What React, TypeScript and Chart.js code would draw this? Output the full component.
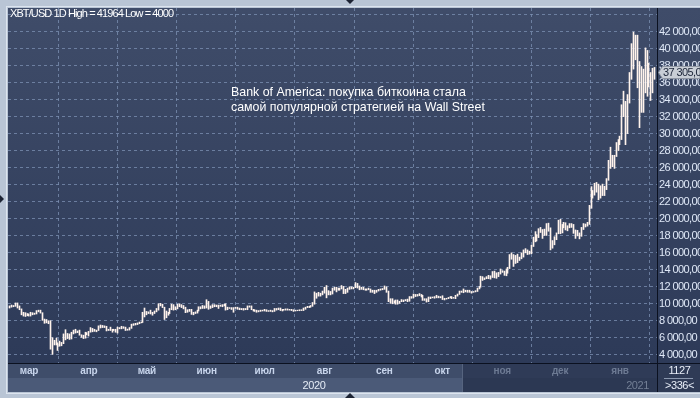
import React, { useEffect, useRef } from "react";
import { Chart, registerables } from "chart.js";

Chart.register(...registerables);

// ---- DATA (daily low / high, XBT/USD) ----
const START_DATE = "2020-02-20";

const feb2020: [number, number][] = [
  [9450, 9700], [9550, 9800], [9600, 9750], [9650, 10050], [9450, 10050], [9250, 9700], [8650, 9350], [8500, 8950], [8450, 8900], [8550, 8800],
];
const mar2020: [number, number][] = [
  [8500, 8750], [8500, 8950], [8650, 8900], [8700, 8850], [8750, 9150], [9000, 9200], [8850, 9200], [8000, 8900], [7650, 8150], [7700, 8100],
  [7600, 7950], [4600, 7950], [4000, 5950], [5100, 5650], [5100, 5900], [4450, 5350], [4950, 5550], [5000, 5400], [5250, 6400], [5700, 6900],
  [5850, 6450], [5750, 6400], [5800, 6600], [6400, 6850], [6500, 6950], [6550, 6750], [6250, 6850], [6000, 6300], [5850, 6250], [5900, 6600],
  [6300, 6550],
];
const apr2020: [number, number][] = [
  [6150, 6700], [6600, 7150], [6650, 7050], [6700, 6950], [6650, 6850], [6800, 7350], [7100, 7450], [7150, 7400], [7150, 7350], [6750, 7300],
  [6800, 6950], [6800, 7200], [6600, 6950], [6800, 6950], [6600, 6950], [6500, 7200], [7000, 7150], [7000, 7300], [7050, 7250], [6800, 7200],
  [6830, 6970], [6850, 7150], [7050, 7550], [7400, 7600], [7450, 7650], [7500, 7700], [7600, 7800], [7700, 7800], [7750, 8950], [8400, 9450],
];
const may2020: [number, number][] = [
  [8650, 9050], [8800, 9000], [8750, 9200], [8600, 8950], [8800, 9100], [9000, 9400], [9200, 9950], [9700, 10000], [9500, 9900], [8100, 9550],
  [8300, 9100], [8600, 8950], [8800, 9400], [9250, 9900], [9200, 9850], [9250, 9600], [9350, 9900], [9600, 9950], [9500, 9850], [9350, 9750],
  [8900, 9550], [8950, 9250], [9050, 9300], [8700, 9300], [8650, 8950], [8800, 9000], [8850, 9200], [9100, 9600], [9350, 9600], [9400, 9750],
  [9400, 9700],
];
const jun2020: [number, number][] = [
  [9450, 10430], [9300, 10230], [9400, 9700], [9500, 9850], [9600, 9850], [9600, 9800], [9400, 9800], [9650, 9800], [9600, 9850], [9700, 9900],
  [9200, 9950], [9250, 9550], [9400, 9500], [9280, 9500], [8950, 9500], [9400, 9550], [9300, 9550], [9250, 9450], [9250, 9400], [9200, 9400],
  [9250, 9400], [9250, 9700], [9550, 9700], [9250, 9700], [9100, 9300], [9050, 9250], [8950, 9200], [9000, 9150], [9050, 9200], [9100, 9200],
];
const jul2020: [number, number][] = [
  [9100, 9300], [9050, 9250], [9050, 9150], [9050, 9200], [9000, 9150], [9050, 9400], [9200, 9400], [9250, 9450], [9150, 9450], [9100, 9300],
  [9200, 9300], [9200, 9350], [9200, 9350], [9200, 9300], [9150, 9300], [9050, 9250], [9100, 9200], [9130, 9200], [9130, 9250], [9150, 9250],
  [9150, 9450], [9300, 9550], [9500, 9650], [9500, 9650], [9550, 9750], [9650, 10100], [9900, 11350], [10600, 11200], [10850, 11300], [10850, 11200],
  [11000, 11450],
];
const aug2020: [number, number][] = [
  [11200, 11900], [10650, 12100], [11000, 11500], [11000, 11400], [11100, 11800], [11550, 11900], [11350, 11900], [11550, 11800], [11550, 11800], [11700, 12100],
  [11150, 12000], [11150, 11650], [11300, 11800], [11650, 11950], [11700, 11950], [11700, 11900], [11850, 12450], [11800, 12350], [11600, 12050], [11650, 11900],
  [11600, 11900], [11550, 11700], [11550, 11700], [11600, 11800], [11300, 11700], [11300, 11550], [11150, 11550], [11300, 11550], [11450, 11650], [11550, 11700],
  [11600, 11750],
];
const sep2020: [number, number][] = [
  [11650, 12050], [11300, 11950], [10200, 11450], [10000, 10550], [9950, 10550], [10050, 10300], [9900, 10400], [9900, 10400], [10000, 10250], [10200, 10450],
  [10200, 10400], [10300, 10450], [10200, 10500], [10250, 10800], [10600, 10800], [10650, 11100], [10800, 11050], [10850, 11050], [10900, 11150], [10750, 11050],
  [10350, 10950], [10350, 10550], [10150, 10550], [10200, 10750], [10550, 10750], [10650, 10750], [10600, 10800], [10650, 10950], [10650, 10850], [10650, 10800],
];
const oct2020: [number, number][] = [
  [10450, 10900], [10400, 10600], [10500, 10600], [10550, 10700], [10650, 10800], [10550, 10800], [10600, 10700], [10550, 10950], [10850, 11100], [11050, 11450],
  [11300, 11450], [11250, 11700], [11350, 11550], [11300, 11550], [11300, 11550], [11200, 11400], [11300, 11400], [11350, 11500], [11400, 11800], [11700, 12000],
  [11900, 13200], [12700, 13150], [12800, 13000], [12900, 13150], [12900, 13300], [12850, 13250], [13050, 13750], [13000, 13800], [12950, 13600], [13150, 13650],
  [13450, 14050],
];
const nov2020: [number, number][] = [
  [13650, 13850], [13300, 13800], [13250, 14050], [13550, 14250], [14100, 15750], [15200, 15950], [14350, 15750], [14700, 15650], [14800, 15800], [15050, 15450],
  [15250, 15950], [15450, 16300], [15950, 16450], [15750, 16300], [15800, 16150], [15850, 16850], [16700, 17800], [17250, 18450], [17350, 18100], [17750, 18800],
  [18350, 18950], [17650, 18700], [18000, 18750], [18000, 19400], [18500, 19450], [16300, 18900], [16500, 17400], [16900, 17850], [17500, 18300], [18200, 19800],
];
const dec2020: [number, number][] = [
  [18200, 19900], [18300, 19300], [18900, 19550], [18650, 19500], [18550, 19150], [18900, 19400], [18950, 19400], [18250, 19300], [17650, 18650], [17950, 18600],
  [17600, 18300], [17900, 18950], [18700, 19400], [19000, 19350], [19100, 19550], [19300, 21550], [21200, 23750], [22400, 23300], [22750, 24150], [23100, 24250],
  [22200, 24050], [22400, 23850], [22700, 24050], [22700, 23800], [23400, 24700], [24500, 26850], [25900, 28400], [26100, 27450], [25900, 27450], [27300, 28950],
  [28000, 29300],
];
const jan2021: [number, number][] = [
  [28700, 29700], [29300, 33400], [32000, 35000], [28700, 33800], [30000, 34600], [33600, 37200], [36400, 40600], [37600, 41964], [38700, 41600], [35400, 41600],
  [30700, 38500], [32500, 37900], [32500, 37600], [34800, 40100], [34400, 39800], [35500, 38300], [33900, 37200], [34800, 37700], [36400, 37800],
];

const MONTH_STARTS = ["2020-03-01", "2020-04-01", "2020-05-01", "2020-06-01", "2020-07-01", "2020-08-01", "2020-09-01", "2020-10-01", "2020-11-01", "2020-12-01", "2021-01-01"];
const MONTH_LABELS = ["мар", "апр", "май", "июн", "июл", "авг", "сен", "окт", "ноя", "дек", "янв"];
const YEAR_LABELS = ["2020", "2021"];
const PRICE_TICKS = [4000, 6000, 8000, 10000, 12000, 14000, 16000, 18000, 20000, 22000, 24000, 26000, 28000, 30000, 32000, 34000, 36000, 38000, 40000, 42000];
const GRID_PRICES = [...PRICE_TICKS, 44000];
const LAST_PRICE = 37305;
const TITLE = "XBT/USD 1D High = 41964 Low = 4000";
const NOTE_LINES = ["Bank of America: покупка биткоина стала", "самой популярной стратегией на Wall Street"];
const COUNT_TOP = "1127";
const COUNT_BOTTOM = ">336<";

const BARS = [
  ...feb2020, ...mar2020, ...apr2020, ...may2020, ...jun2020, ...jul2020,
  ...aug2020, ...sep2020, ...oct2020, ...nov2020, ...dec2020, ...jan2021,
];

const DAY = 86400000;
const dayIndex = (d: string) => Math.round((Date.parse(d + "T00:00:00Z") - Date.parse(START_DATE + "T00:00:00Z")) / DAY);
const MONTH_IDX = MONTH_STARTS.map(dayIndex);

const fmt = (v: number) => {
  const th = Math.floor(v / 1000);
  const rest = String(v % 1000).padStart(3, "0");
  return `${th} ${rest},00`;
};

const FONT = "'Liberation Sans', Arial, sans-serif";

const framePlugin = {
  id: "frame",
  beforeDraw(chart: any) {
    const { ctx, chartArea: ca, width, height } = chart;
    ctx.save();
    ctx.fillStyle = "#b9c5d5";
    ctx.fillRect(0, 0, width, height);
    ctx.strokeStyle = "#dce4ee";
    ctx.lineWidth = 1;
    ctx.strokeRect(6.5, 6.5, width - 6, ca.bottom + 30 - 6);
    const g = ctx.createLinearGradient(0, ca.top, 0, ca.bottom);
    g.addColorStop(0, "#3f4c69");
    g.addColorStop(1, "#2d3a58");
    ctx.fillStyle = g;
    ctx.fillRect(ca.left, ca.top, width - ca.left, ca.bottom - ca.top);
    const r1 = ca.bottom, r2 = ca.bottom + 15, r3 = ca.bottom + 29;
    const shade = 462;
    ctx.fillStyle = "#3f4d6a";
    ctx.fillRect(ca.left, r1, ca.right - ca.left, r2 - r1);
    ctx.fillStyle = "#4b5a78";
    ctx.fillRect(ca.left, r2, ca.right - ca.left, r3 - r2);
    ctx.fillStyle = "#2f3b57";
    ctx.fillRect(shade, r1, ca.right - shade, r2 - r1);
    ctx.fillStyle = "#2c3853";
    ctx.fillRect(shade, r2, ca.right - shade, r3 - r2);
    ctx.fillStyle = "#56647f";
    ctx.fillRect(shade, r1, 1, r3 - r1);
    ctx.fillStyle = "#2f3b56";
    ctx.fillRect(ca.right, r1, width - ca.right, r3 - r1);
    ctx.restore();
  },
  beforeDatasetsDraw(chart: any) {
    const meta = chart.getDatasetMeta(0);
    meta.data.forEach((el: any) => {
      el.x = Math.floor(el.x) + 0.5;
    });
  },
  afterDraw(chart: any) {
    const { ctx, chartArea: ca, width, scales } = chart;
    const xs = scales.x, ys = scales.y;
    const r1 = ca.bottom, r2 = ca.bottom + 15, r3 = ca.bottom + 29;
    const shade = 462;
    ctx.save();
    ctx.fillStyle = "#0b1120";
    ctx.fillRect(ca.right, ca.top, 1, r3 - ca.top);
    ctx.fillRect(ca.left, r1, width - ca.left, 1);
    // price labels
    ctx.font = `11px ${FONT}`;
    (ctx as any).letterSpacing = "-0.6px";
    ctx.textBaseline = "middle";
    ctx.textAlign = "left";
    ctx.fillStyle = "#dfe8f7";
    PRICE_TICKS.forEach((v) => {
      ctx.fillText(fmt(v), ca.right + 2, ys.getPixelForValue(v) + 0.5);
    });
    // last price marker
    const py = Math.round(ys.getPixelForValue(LAST_PRICE));
    ctx.fillStyle = "#c9ced6";
    ctx.strokeStyle = "#8f96a3";
    ctx.beginPath();
    ctx.moveTo(ca.right + 1.5, py + 0.5);
    ctx.lineTo(ca.right + 5.5, py - 5.5);
    ctx.lineTo(width, py - 5.5);
    ctx.lineTo(width, py + 6.5);
    ctx.lineTo(ca.right + 5.5, py + 6.5);
    ctx.closePath();
    ctx.fill();
    ctx.stroke();
    ctx.fillStyle = "#1b2438";
    ctx.fillText(fmt(LAST_PRICE), ca.right + 6, py + 1);
    // month labels
    ctx.font = `bold 10px ${FONT}`;
    (ctx as any).letterSpacing = "-0.2px";
    ctx.textAlign = "center";
    MONTH_IDX.forEach((idx, i) => {
      const x = xs.getPixelForValue(idx);
      ctx.fillStyle = x > shade ? "#6d7a93" : "#c7d4eb";
      ctx.fillText(MONTH_LABELS[i], x, r1 + 8);
    });
    // year labels
    ctx.font = `11px ${FONT}`;
    (ctx as any).letterSpacing = "-0.4px";
    const janX = xs.getPixelForValue(MONTH_IDX[MONTH_IDX.length - 1]);
    ctx.fillStyle = "#e4ebf6";
    ctx.fillText(YEAR_LABELS[0], (ca.left + janX) / 2, r2 + 7.5);
    ctx.textAlign = "right";
    ctx.fillStyle = "#737f95";
    ctx.fillText(YEAR_LABELS[1], ca.right - 8, r2 + 7.5);
    // count box
    ctx.textAlign = "center";
    ctx.fillStyle = "#e8eef8";
    const cx = (ca.right + width) / 2 + 1;
    ctx.fillText(COUNT_TOP, cx, r1 + 7.5);
    ctx.fillStyle = "#8a97ae";
    ctx.fillRect(ca.right + 7, r2, width - ca.right - 14, 1);
    ctx.fillStyle = "#e8eef8";
    ctx.fillText(COUNT_BOTTOM, cx, r2 + 7.5);
    // title
    ctx.textAlign = "left";
    ctx.fillStyle = "#ffffff";
    ctx.font = `11px ${FONT}`;
    (ctx as any).letterSpacing = "-0.9px";
    ctx.fillText(TITLE, ca.left + 2, ca.top + 6);
    // note
    ctx.font = `12.4px ${FONT}`;
    (ctx as any).letterSpacing = "0px";
    ctx.fillText(NOTE_LINES[0], 231, 93);
    ctx.fillText(NOTE_LINES[1], 231, 108);
    // frame triangles
    ctx.fillStyle = "#1c2333";
    ctx.beginPath();
    ctx.moveTo(346, 0); ctx.lineTo(354, 0); ctx.lineTo(350, 4); ctx.closePath(); ctx.fill();
    ctx.beginPath();
    ctx.moveTo(345, 398); ctx.lineTo(355, 398); ctx.lineTo(350, 393); ctx.closePath(); ctx.fill();
    ctx.beginPath();
    ctx.moveTo(0, 195); ctx.lineTo(0, 203); ctx.lineTo(4, 199); ctx.closePath(); ctx.fill();
    ctx.restore();
  },
};

export default function App() {
  const ref = useRef<HTMLCanvasElement | null>(null);
  useEffect(() => {
    if (!ref.current) return;
    const data = BARS.map((b, i) => ({ x: i, y: b }));
    const gridColor = "rgba(125,145,180,0.75)";
    const chart = new Chart(ref.current, {
      type: "bar",
      data: {
        datasets: [
          {
            data: data as any,
            backgroundColor: "#fff3ec",
            borderWidth: 0,
            barThickness: 1,
          } as any,
        ],
      },
      options: {
        animation: false,
        responsive: false,
        maintainAspectRatio: false,
        layout: { padding: { left: 8, top: 8, right: 43, bottom: 35 } },
        plugins: { legend: { display: false }, tooltip: { enabled: false } },
        scales: {
          x: {
            type: "linear",
            min: -0.873,
            max: 335.16,
            offset: false,
            grid: { color: gridColor, drawTicks: false, lineWidth: 1 },
            border: { display: false, dash: [3, 3] },
            ticks: { display: false },
            afterBuildTicks: (s: any) => {
              s.ticks = MONTH_IDX.map((v) => ({ value: v }));
            },
            afterFit: (s: any) => {
              s.height = 0;
            },
          },
          y: {
            type: "linear",
            position: "right",
            min: 2973,
            max: 44800,
            grid: { color: gridColor, drawTicks: false, lineWidth: 1 },
            border: { display: false, dash: [3, 3] },
            ticks: { display: false },
            afterBuildTicks: (s: any) => {
              s.ticks = GRID_PRICES.map((v) => ({ value: v }));
            },
            afterFit: (s: any) => {
              s.width = 0;
            },
          },
        } as any,
      },
      plugins: [framePlugin as any],
    });
    return () => chart.destroy();
  }, []);
  return (
    <div style={{ position: "fixed", left: 0, top: 0, width: 700, height: 398 }}>
      <canvas ref={ref} width={700} height={398} style={{ width: 700, height: 398, display: "block" }} />
    </div>
  );
}
